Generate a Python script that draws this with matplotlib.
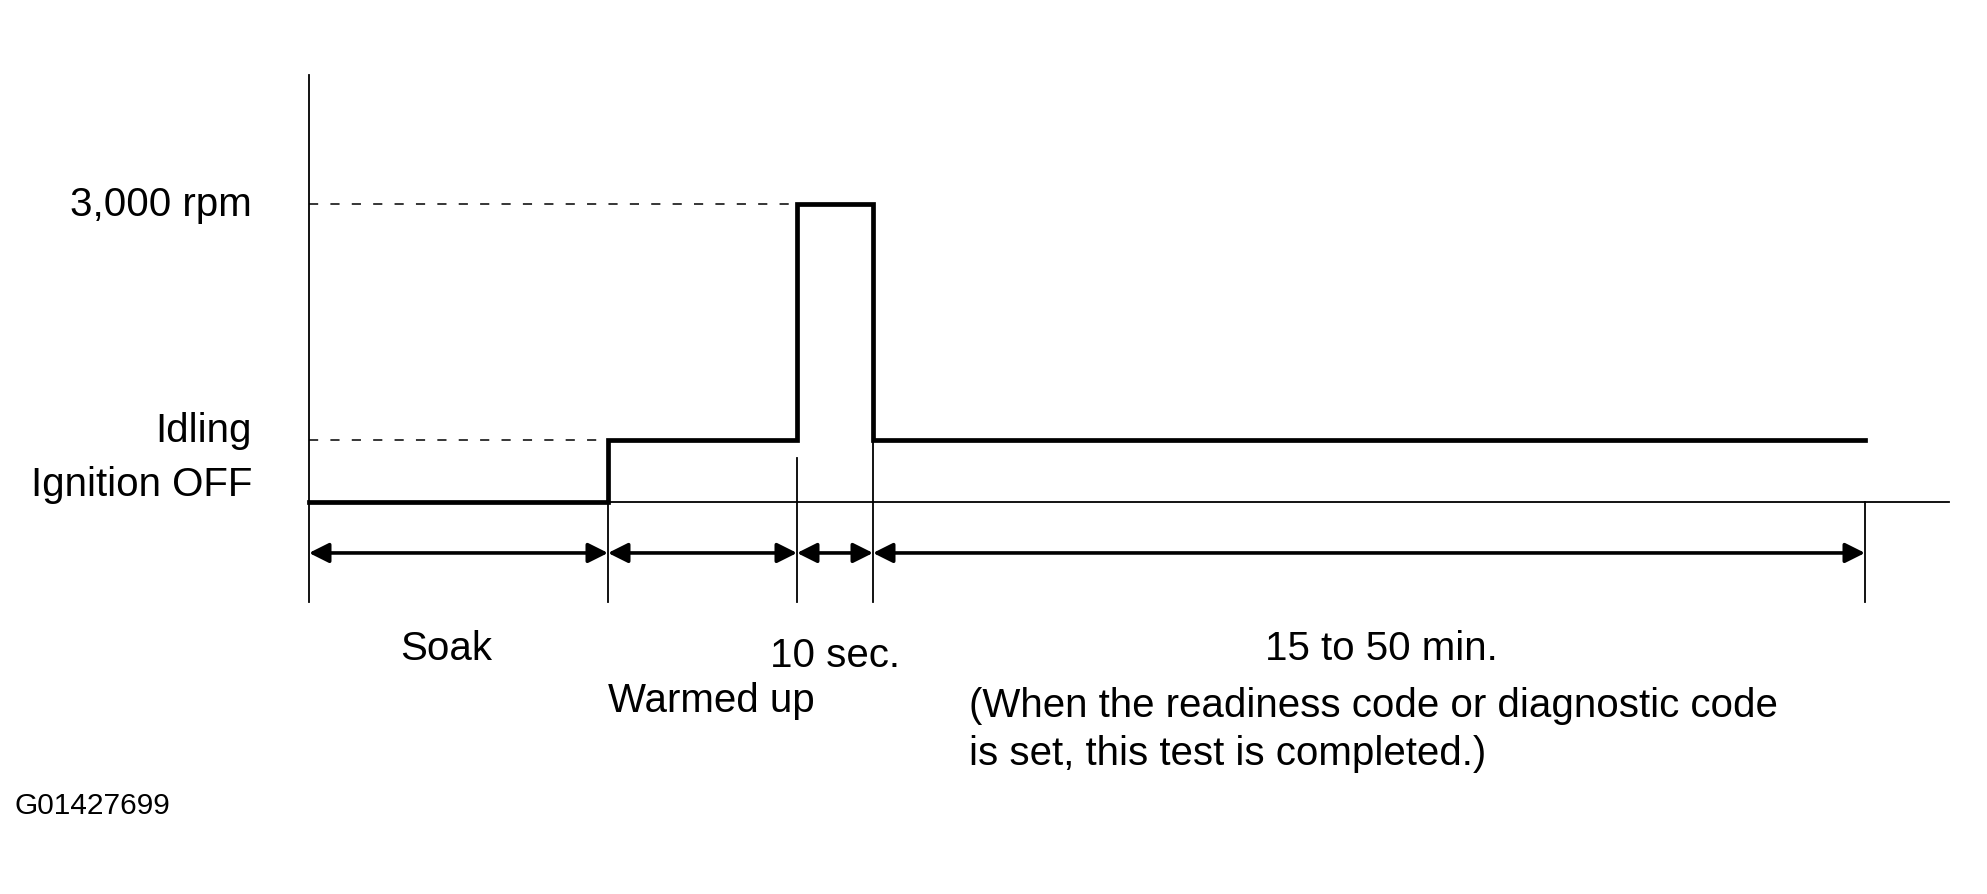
import numpy as np
import matplotlib.pyplot as plt

plt.rcParams['font.family'] = ['Liberation Sans', 'DejaVu Sans']

# phases of the test (time axis is schematic, arbitrary units)
phases = ["Soak", "Warmed up", "10 sec.", "15 to 50 min."]
phase_len = [299, 189, 76, 992]
# engine speed in each phase (rpm)
phase_rpm = [0, 620, 3000, 620]
levels = [3000, 620, 0]
level_labels = ["3,000 rpm", "Idling", "Ignition OFF"]
note = ["(When the readiness code or diagnostic code", "is set, this test is completed.)"]
fig_id = "G01427699"

bounds = np.concatenate([[0], np.cumsum(phase_len)])

fig = plt.figure(figsize=(19.87, 8.95), dpi=100)
ax = fig.add_axes([0, 0, 1, 1])
ax.set_xlim(-309, 1678)
k = 3000 / 298.0
ax.set_ylim((503 - 895) * k, 503 * k)
ax.axis('off')

lw_thin = 1.3
y_bot = -1007
y_arrow = -513

# vertical axis + baseline
ax.plot([0, 0], [4298, y_bot], color='black', lw=lw_thin)
ax.plot([0, 1640], [0, 0], color='black', lw=lw_thin)

# dashed guides
ax.plot([0, bounds[2]], [3000, 3000], color='black', lw=1.1, ls=(0, (6, 8)))
ax.plot([0, bounds[1]], [620, 620], color='black', lw=1.1, ls=(0, (6, 8)))

# rpm step trace
xs, ys = [], []
for i in range(len(phases)):
    xs += [bounds[i], bounds[i + 1]]
    ys += [phase_rpm[i], phase_rpm[i]]
ax.plot(xs, ys, color='black', lw=3.4, solid_joinstyle='miter')

# boundary lines
starts = [0, 443, 620, 0]
for b, s in zip(bounds[1:], starts):
    ax.plot([b, b], [s, y_bot], color='black', lw=lw_thin)

# double arrows
for i in range(len(phases)):
    ax.annotate('', xy=(bounds[i + 1], y_arrow), xytext=(bounds[i], y_arrow),
                arrowprops=dict(arrowstyle='<|-|>', color='black', lw=2.6,
                                mutation_scale=30, shrinkA=0, shrinkB=0))

fs = 29

# level labels
lvl_y = [3000, 725, 181]
for lab, y in zip(level_labels, lvl_y):
    ax.text(-57, y, lab, ha='right', va='center', fontsize=fs)

ax.text((bounds[0] + bounds[1]) / 2 - 12, -1470, phases[0], ha='center', va='center', fontsize=fs)
ax.text(bounds[1], -1993, phases[1], ha='left', va='center', fontsize=fs)
ax.text((bounds[2] + bounds[3]) / 2, -1540, phases[2], ha='center', va='center', fontsize=fs)
ax.text((bounds[3] + bounds[4]) / 2 + 12, -1470, phases[3], ha='center', va='center', fontsize=fs)
for line, y in zip(note, [-2044, -2527]):
    ax.text(660, y, line, ha='left', va='center', fontsize=fs)
ax.text(-294, -3050, fig_id, ha='left', va='center', fontsize=21.5)

fig.savefig('out.png', dpi=100, facecolor='white')
